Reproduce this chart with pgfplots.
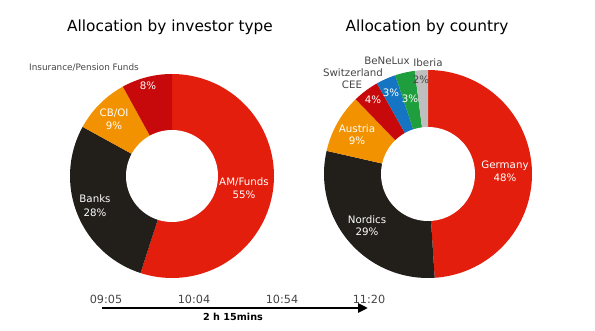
\documentclass[border=0pt]{standalone}
\usepackage{pgfplots}
\pgfplotsset{compat=1.18}
\usepackage{fontspec}
\setmainfont{DejaVu Sans}
\usetikzlibrary{arrows.meta}
\definecolor{cRed}{HTML}{E41E0C}
\definecolor{cDark}{HTML}{C8090B}
\definecolor{cOrange}{HTML}{F39200}
\definecolor{cBlack}{HTML}{221F1B}
\definecolor{cBlue}{HTML}{1575C2}
\definecolor{cGreen}{HTML}{1E9E3C}
\definecolor{cGrey}{HTML}{BFBFBF}
\definecolor{cText}{HTML}{454545}
% ---- data (percent shares) ----
% investor type: AM/Funds, Banks, CB/OI, Insurance/Pension Funds
\def\vAM{55}\def\vBanks{28}\def\vCB{9}\def\vIns{8}
% country: Germany, Nordics, Austria, Switzerland/CEE, BeNeLux, (other), Iberia
\def\vGer{48}\def\vNor{29}\def\vAut{9}\def\vSwi{4}\def\vBen{3}\def\vOth{3}\def\vIbe{2}
\pgfmathsetmacro\LT{\vAM+\vBanks+\vCB+\vIns}
\pgfmathsetmacro\LK{360/\LT}
\pgfmathsetmacro\LA{90}
\pgfmathsetmacro\LB{\LA-\LK*\vAM}
\pgfmathsetmacro\LC{\LB-\LK*\vBanks}
\pgfmathsetmacro\LD{\LC-\LK*\vCB}
\pgfmathsetmacro\LE{\LD-\LK*\vIns}
\pgfmathsetmacro\RT{\vGer+\vNor+\vAut+\vSwi+\vBen+\vOth+\vIbe}
\pgfmathsetmacro\RK{360/\RT}
\pgfmathsetmacro\RA{90}
\pgfmathsetmacro\RB{\RA-\RK*\vGer}
\pgfmathsetmacro\RC{\RB-\RK*\vNor}
\pgfmathsetmacro\RD{\RC-\RK*\vAut}
\pgfmathsetmacro\RE{\RD-\RK*\vSwi}
\pgfmathsetmacro\RF{\RE-\RK*\vBen}
\pgfmathsetmacro\RG{\RF-\RK*\vOth}
\pgfmathsetmacro\RH{\RG-\RK*\vIbe}
\begin{document}
\begin{tikzpicture}
\begin{axis}[at={(0,0)}, anchor=south west, width=595bp, height=331bp, scale only axis,
  xmin=0, xmax=595, ymin=0, ymax=331, hide axis, clip=false]
% left donut: centre (172,155), R=102, r=46
\addplot[fill=cRed, draw=none, domain=\LB:\LA, samples=80, variable=\t] ({172+102*cos(\t)},{155+102*sin(\t)}) -- (axis cs:172,155) -- cycle;
\addplot[fill=cBlack, draw=none, domain=\LC:\LB, samples=60, variable=\t] ({172+102*cos(\t)},{155+102*sin(\t)}) -- (axis cs:172,155) -- cycle;
\addplot[fill=cOrange, draw=none, domain=\LD:\LC, samples=30, variable=\t] ({172+102*cos(\t)},{155+102*sin(\t)}) -- (axis cs:172,155) -- cycle;
\addplot[fill=cDark, draw=none, domain=\LE:\LD, samples=30, variable=\t] ({172+102*cos(\t)},{155+102*sin(\t)}) -- (axis cs:172,155) -- cycle;
\addplot[fill=white, draw=none, domain=0:360, samples=100, variable=\t] ({172+46*cos(\t)},{155+46*sin(\t)}) -- cycle;
% right donut: centre (428,157), R=104, r=47
\addplot[fill=cRed, draw=none, domain=\RB:\RA, samples=80, variable=\t] ({428+104*cos(\t)},{157+104*sin(\t)}) -- (axis cs:428,157) -- cycle;
\addplot[fill=cBlack, draw=none, domain=\RC:\RB, samples=60, variable=\t] ({428+104*cos(\t)},{157+104*sin(\t)}) -- (axis cs:428,157) -- cycle;
\addplot[fill=cOrange, draw=none, domain=\RD:\RC, samples=30, variable=\t] ({428+104*cos(\t)},{157+104*sin(\t)}) -- (axis cs:428,157) -- cycle;
\addplot[fill=cDark, draw=none, domain=\RE:\RD, samples=20, variable=\t] ({428+104*cos(\t)},{157+104*sin(\t)}) -- (axis cs:428,157) -- cycle;
\addplot[fill=cBlue, draw=none, domain=\RF:\RE, samples=20, variable=\t] ({428+104*cos(\t)},{157+104*sin(\t)}) -- (axis cs:428,157) -- cycle;
\addplot[fill=cGreen, draw=none, domain=\RG:\RF, samples=20, variable=\t] ({428+104*cos(\t)},{157+104*sin(\t)}) -- (axis cs:428,157) -- cycle;
\addplot[fill=cGrey, draw=none, domain=\RH:\RG, samples=20, variable=\t] ({428+104*cos(\t)},{157+104*sin(\t)}) -- (axis cs:428,157) -- cycle;
\addplot[fill=white, draw=none, domain=0:360, samples=100, variable=\t] ({428+47*cos(\t)},{157+47*sin(\t)}) -- cycle;
% titles
\node[font=\fontsize{15.4}{18}\selectfont, text=black] at (axis cs:170,304) {Allocation by investor type};
\node[font=\fontsize{15.4}{18}\selectfont, text=black] at (axis cs:427,304) {Allocation by country};
% left labels
\begin{scope}[every node/.style={font=\fontsize{10.3}{12}\selectfont, inner sep=0pt}]
\node[text=cText, font=\fontsize{8.9}{11}\selectfont] at (axis cs:84,263) {Insurance/Pension Funds};
\node[text=white] at (axis cs:148,245) {8\%};
\node[text=white] at (axis cs:114,218) {CB/OI};
\node[text=white] at (axis cs:114,205) {9\%};
\node[text=white] at (axis cs:244,149) {AM/Funds};
\node[text=white] at (axis cs:244,136) {55\%};
\node[text=white] at (axis cs:95,132) {Banks};
\node[text=white] at (axis cs:95,118) {28\%};
% right labels
\node[text=white] at (axis cs:505,165) {Germany};
\node[text=white] at (axis cs:505,153) {48\%};
\node[text=white] at (axis cs:367,111) {Nordics};
\node[text=white] at (axis cs:367,99) {29\%};
\node[text=white] at (axis cs:357,202) {Austria};
\node[text=white] at (axis cs:357,190) {9\%};
\node[text=white] at (axis cs:373,231) {4\%};
\node[text=white] at (axis cs:391,238) {3\%};
\node[text=white] at (axis cs:410,232) {3\%};
\node[text=cText] at (axis cs:421,251) {2\%};
\node[text=cText] at (axis cs:387,270) {BeNeLux};
\node[text=cText] at (axis cs:428,268) {Iberia};
\node[text=cText] at (axis cs:353,258) {Switzerland};
\node[text=cText] at (axis cs:352,246) {CEE};
\end{scope}
% timeline
\begin{scope}[every node/.style={font=\fontsize{11.3}{13}\selectfont, text=cText, inner sep=0pt}]
\node at (axis cs:106,32) {09:05};
\node at (axis cs:194,32) {10:04};
\node at (axis cs:282,32) {10:54};
\node at (axis cs:369,32) {11:20};
\end{scope}
\draw[line width=2.6bp, -{Triangle[length=10bp,width=9bp]}] (axis cs:102,23) -- (axis cs:368,23);
\node[font=\fontsize{9.7}{12}\selectfont\bfseries, inner sep=0pt] at (axis cs:233,14) {2 h 15mins};
\end{axis}
\pgfresetboundingbox
\useasboundingbox (0,0) rectangle (595bp,331bp);
\end{tikzpicture}
\end{document}
